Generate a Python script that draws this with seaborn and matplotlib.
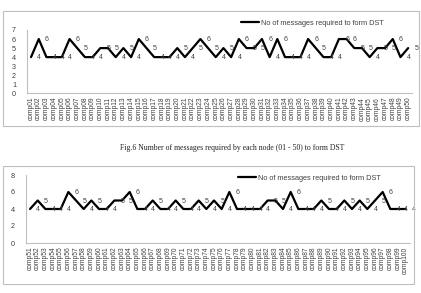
import matplotlib
matplotlib.use("Agg")
import matplotlib.pyplot as plt
from matplotlib.patches import Rectangle
import seaborn as sns
import pandas as pd

# ---- data ----
nodes_top = [f"comp{i:02d}" for i in range(1, 51)]
msgs_top = [4, 6, 4, 4, 4, 6, 5, 4, 4, 5,
            5, 4, 5, 4, 6, 5, 4, 4, 4, 5,
            4, 5, 6, 5, 4, 5, 4, 6, 5, 5,
            6, 4, 6, 4, 4, 4, 6, 5, 4, 4,
            6, 6, 5, 5, 4, 5, 5, 6, 4, 5]
nodes_bot = [f"comp{i}" for i in range(51, 101)]
msgs_bot = [4, 5, 4, 4, 4, 6, 5, 4, 5, 4,
            4, 5, 5, 6, 4, 4, 5, 4, 4, 5,
            4, 4, 5, 4, 5, 4, 6, 4, 4, 4,
            4, 5, 5, 4, 6, 4, 4, 4, 5, 4,
            4, 5, 4, 5, 4, 5, 6, 4, 4, 4]
series_name = "No of messages required to form DST"
caption = "Fig.6 Number of messages required by each node (01 - 50) to form DST"

sns.set_theme(style="white")
plt.rcParams['font.family'] = ['Liberation Sans', 'DejaVu Sans']

W, H = 421, 293
fig = plt.figure(figsize=(W / 100, H / 100), dpi=100)

def px_axes(x0, x1, ytop, ybot):
    return fig.add_axes([x0 / W, 1 - ybot / H, (x1 - x0) / W, (ybot - ytop) / H])

def draw(ax, cats, vals, ymax, ystep, legend_xy):
    df = pd.DataFrame({"node": cats, "msgs": vals})
    sns.lineplot(data=df, x="node", y="msgs", ax=ax, color="black", lw=1.6,
                 label=series_name, legend=False, sort=False)
    ax.set_xlim(-0.5, len(cats) - 0.5)
    ax.set_ylim(0, ymax)
    ax.set_yticks(range(0, ymax + 1, ystep))
    ax.set_xlabel("")
    ax.set_ylabel("")
    ax.tick_params(axis="x", labelrotation=90, labelsize=4.8, pad=2.5,
                   colors="#404040", length=0)
    ax.tick_params(axis="y", labelsize=5.2, pad=8, colors="#404040", length=0)
    for s in ["top", "right"]:
        ax.spines[s].set_visible(False)
    for s in ["left", "bottom"]:
        ax.spines[s].set_color("#bfbfbf")
        ax.spines[s].set_linewidth(0.8)
    for i, v in enumerate(vals):
        ax.annotate(str(v), (i, v), xytext=(4.5, -0.5), textcoords="offset points",
                    ha="left", va="center", fontsize=5, color="#404040")
    h, l = ax.get_legend_handles_labels()
    fig.legend(h, l, loc="center left",
               bbox_to_anchor=(legend_xy[0] / W, 1 - legend_xy[1] / H),
               frameon=False, fontsize=5.3, handlelength=2.4, handletextpad=0.3,
               borderpad=0, borderaxespad=0, labelcolor="#404040")

# chart borders
fig.patches.append(Rectangle((3 / W, 1 - 126 / H), 416 / W, 115 / H,
                             transform=fig.transFigure, fill=False,
                             edgecolor="#bfbfbf", lw=0.8))
fig.patches.append(Rectangle((3 / W, 1 - 284 / H), 411 / W, 118 / H,
                             transform=fig.transFigure, fill=False,
                             edgecolor="#bfbfbf", lw=0.8))

ax1 = px_axes(27.2, 412, 30, 93.3)
draw(ax1, nodes_top, msgs_top, 7, 1, (241, 23))

ax2 = px_axes(26.2, 409.5, 175, 243)
draw(ax2, nodes_bot, msgs_bot, 8, 2, (238, 178))

fig.text(232 / W, 1 - 148 / H, caption, ha="center", va="center",
         fontsize=5.6, family="Liberation Serif", color="#222222")

fig.savefig("out.png", dpi=100)
